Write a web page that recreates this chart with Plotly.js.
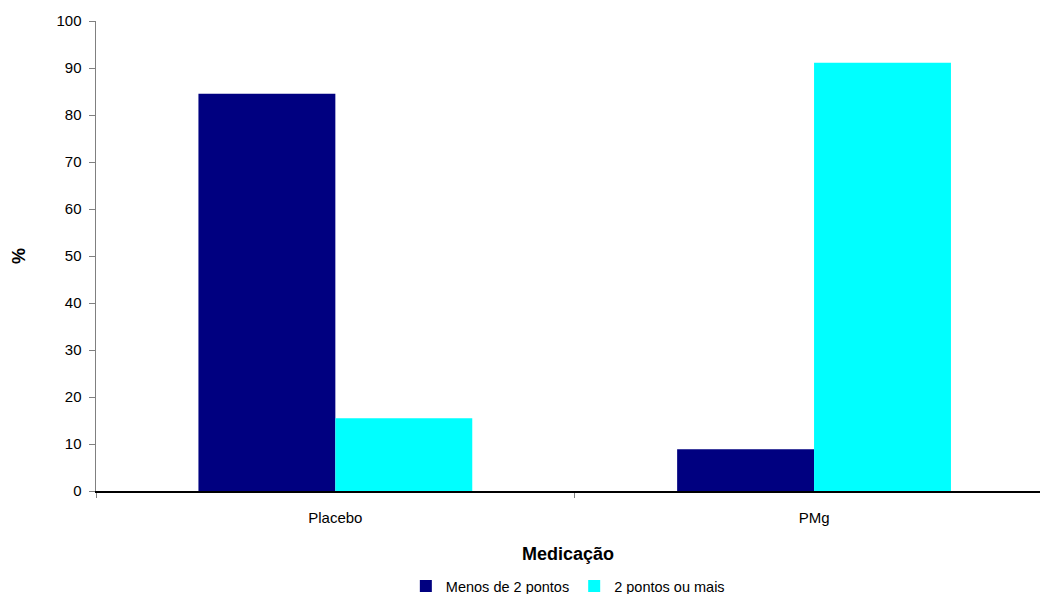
<!DOCTYPE html>
<html>
<head>
<meta charset="utf-8">
<script src="https://cdn.plot.ly/plotly-3.0.1.min.js"></script>
<style>html,body{margin:0;padding:0;background:#fff;}#chart{width:1040px;height:594px;}</style>
</head>
<body>
<div id="chart"></div>
<script>
const categories = ["Placebo", "PMg"];
const seriesNames = ["Menos de 2 pontos", "2 pontos ou mais"];
const menosDe2 = [84.5, 8.9];
const doisOuMais = [15.5, 91.1];
const yTicks = [0, 10, 20, 30, 40, 50, 60, 70, 80, 90, 100];

const font = {family: "Liberation Sans, Arial, sans-serif", color: "#000"};

const traces = [
  {type: "bar", name: seriesNames[0], x: categories, y: menosDe2, marker: {color: "#000080"}},
  {type: "bar", name: seriesNames[1], x: categories, y: doisOuMais, marker: {color: "#00FFFF"}}
];

const layout = {
  width: 1040, height: 594,
  margin: {l: 96, r: 0, t: 21, b: 103, pad: 0, autoexpand: false},
  paper_bgcolor: "#fff", plot_bgcolor: "#fff",
  font: Object.assign({size: 15}, font),
  barmode: "group",
  bargap: 0.428,
  bargroupgap: 0,
  showlegend: true,
  legend: {orientation: "h", xref: "container", x: 0.546, xanchor: "center",
           yref: "container", y: 0.0135, yanchor: "middle",
           font: Object.assign({size: 14.5}, font), itemwidth: 30, tracegroupgap: 0},
  xaxis: {
    type: "category", range: [-0.5, 1.472], fixedrange: true, automargin: false,
    showline: true, linecolor: "#000", linewidth: 2,
    ticks: "outside", tickson: "boundaries", ticklen: 5, tickcolor: "#808080",
    ticklabelstandoff: 12,
    tickfont: Object.assign({size: 15}, font),
    showgrid: false, zeroline: false,
    title: {text: "<b>Medicação</b>", font: Object.assign({size: 18}, font), standoff: 22}
  },
  yaxis: {
    range: [0, 100], tickvals: yTicks, fixedrange: true, automargin: false,
    showline: true, linecolor: "#808080", linewidth: 1.5,
    ticks: "outside", ticklen: 6, tickcolor: "#808080",
    ticklabelstandoff: 4,
    tickfont: Object.assign({size: 15}, font),
    showgrid: false, zeroline: false,
    title: {text: "<b>%</b>", font: Object.assign({size: 18}, font), standoff: 26}
  }
};

Plotly.newPlot("chart", traces, layout, {displayModeBar: false, staticPlot: true});
</script>
</body>
</html>
